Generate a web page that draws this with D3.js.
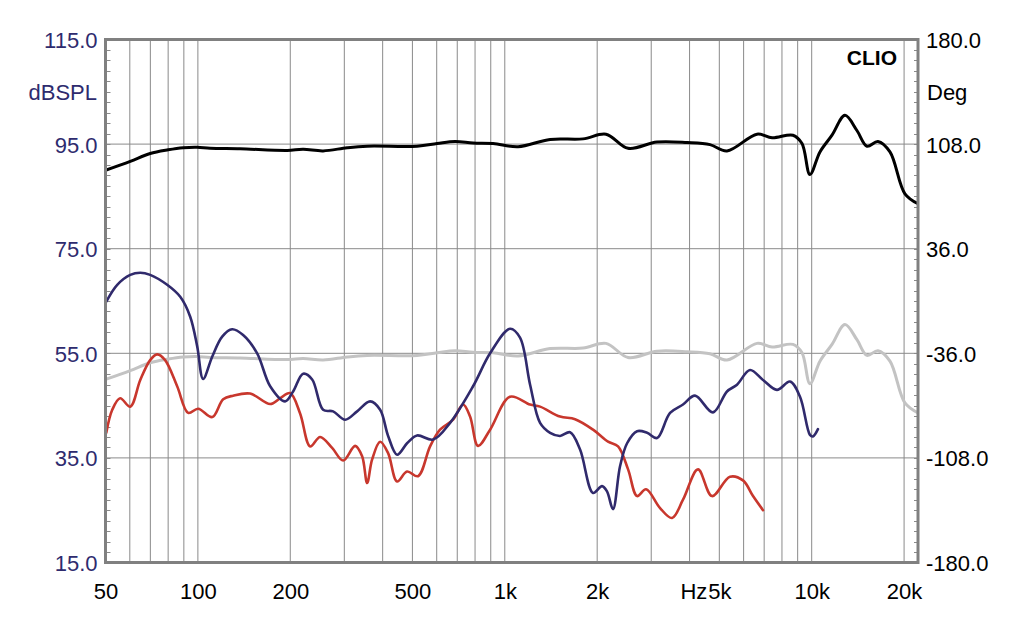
<!DOCTYPE html>
<html>
<head>
<meta charset="utf-8">
<script src="https://cdn.jsdelivr.net/npm/d3@7"></script>
<style>
  html, body { margin: 0; padding: 0; background: #ffffff; }
  svg { display: block; font-family: "Liberation Sans", Arial, sans-serif; }
</style>
</head>
<body>
<svg id="chart" width="1024" height="627"></svg>
<script>
// ---------------- DATA ----------------
const blackFreq = [50,60.2,69.9,80,89.6,99.5,109.6,137.3,195.3,220.3,255.9,306.4,356,517.8,601.6,688.6,788.2,916,1105,1405,1799,2137,2522,3134,3924,4663,5296,6635,7430,8690,9299,9870,10640,11645,12835,14040,15140,16440,17990,20130,22200];
const blackSPL  = [90.0,91.7,93.2,93.9,94.3,94.4,94.2,94.1,93.8,94.0,93.7,94.3,94.6,94.6,95.1,95.5,95.2,95.1,94.5,95.9,96.0,96.9,94.2,95.4,95.3,94.9,93.7,96.9,96.2,96.7,95.1,89.2,93.5,96.7,100.5,97.6,94.6,95.5,93.5,85.5,83.6];

const grayFreq  = [50,60.2,69.9,80,89.6,99.5,109.6,137.3,195.3,220.3,255.9,306.4,356,517.8,601.6,688.6,788.2,916,1105,1405,1799,2137,2522,3134,3924,4663,5296,6635,7430,8690,9299,9870,10640,11645,12835,14040,15140,16440,17990,20130,22200];
const graySPL   = [50.0,51.7,53.2,53.9,54.3,54.4,54.2,54.1,53.8,54.0,53.7,54.3,54.6,54.6,55.1,55.5,55.2,55.1,54.5,55.9,56.0,56.9,54.2,55.4,55.3,54.9,53.7,56.9,56.2,56.7,55.1,49.2,53.5,56.7,60.5,57.6,54.6,55.5,53.5,45.5,43.6];

const blueFreq  = [50.3,54.6,60.2,64.9,69.9,79.4,87.6,94.4,99.5,104,111.4,120,129.3,140.4,156,172,192.4,204.3,220.3,235.7,255.9,275.8,301.9,330.3,364.1,392.5,416.7,445.8,480.3,517.8,583.8,663.3,788.2,895.6,1040,1121,1209,1303,1405,1514,1632,1759,1939,2074,2153,2252,2374,2503,2698,2908,3134,3455,3808,4167,4768,5296,5710,6295,6940,7706,8497,9160,9870,10094,10480];
const blueSPL   = [64.9,68.1,70.0,70.4,70.0,68.1,65.8,62.0,56.3,50.1,54.4,58.2,59.6,58.5,55.0,48.7,45.8,47.7,51.1,50.0,44.2,43.9,42.3,43.9,45.8,44.2,39.2,35.6,37.8,39.3,38.5,41.7,48.7,55.0,59.7,58.0,49.0,41.7,39.8,39.2,39.9,36.6,28.3,29.6,28.6,25.2,33.4,37.8,40.1,39.8,38.8,43.6,45.2,46.9,43.7,47.7,49.0,51.8,49.9,48.0,49.6,46.7,39.4,39.1,40.5];

const redFreq   = [50.3,52.6,55.8,60.2,64.9,69.9,73.7,78.2,85.6,93,100.2,111.4,120.9,130.3,148,172,185.3,199.7,215.3,232.2,250.2,273.8,297.4,325.4,342.9,356,369.6,392.5,416.7,445.8,480.3,521.7,570.9,615.2,678.4,731.1,770.6,818.3,895.6,1040,1209,1303,1514,1694,1939,2170,2339,2522,2698,2886,3206,3507,3808,4262,4733,5417,5972,6439,6940];
const redSPL    = [39.8,44.2,46.4,44.8,49.9,53.7,54.8,53.7,48.7,43.6,44.4,42.8,46.2,46.9,47.3,45.3,46.4,47.4,43.5,37.2,39.0,36.9,34.5,37.3,35.3,30.2,34.7,38.1,35.9,30.5,32.4,31.5,37.2,40.4,42.3,45.2,42.9,37.3,40.4,46.7,45.2,44.8,42.9,42.4,40.4,38.1,37.2,32.8,27.7,29.0,25.4,23.5,27.0,32.8,27.7,31.4,30.7,27.7,25.0];

const xTickValues = [50,100,200,500,1000,2000,5000,10000,20000];
const xTickLabels = ["50","100","200","500","1k","2k","5k","10k","20k"];
const xGridValues = [60,70,80,90,100,200,300,400,500,600,700,800,900,1000,2000,3000,4000,5000,6000,7000,8000,9000,10000,20000];
const yLeftTicks  = [15,35,55,75,95,115];
const yLeftLabels = ["15.0","35.0","55.0","75.0","95.0","115.0"];
const yRightTicks = [-180,-108,-36,36,108,180];
const yRightLabels= ["-180.0","-108.0","-36.0","36.0","108.0","180.0"];
const yMinorTicks = d3.range(17, 115, 2);

// ---------------- LAYOUT ----------------
const L = 105.5, R = 918, T = 39.5, B = 562.5;
const FS = "22px";
const svg = d3.select("#chart");

const x = d3.scaleLog().domain([50, 22200]).range([L, R]);
const y = d3.scaleLinear().domain([15, 115]).range([B, T]);
const y2 = d3.scaleLinear().domain([-180, 180]).range([B, T]);

const gridColor = "#8a8a8a";
const leftColor = "#2e2b6e";

svg.append("defs").append("clipPath").attr("id", "clip")
  .append("rect").attr("x", L).attr("y", T).attr("width", R - L).attr("height", B - T);

svg.append("g").selectAll("line").data(xGridValues).join("line")
  .attr("x1", d => x(d)).attr("x2", d => x(d))
  .attr("y1", T).attr("y2", B)
  .attr("stroke", gridColor).attr("stroke-width", 1);

svg.append("g").selectAll("line").data([35,55,75,95]).join("line")
  .attr("x1", L).attr("x2", R)
  .attr("y1", d => y(d)).attr("y2", d => y(d))
  .attr("stroke", gridColor).attr("stroke-width", 1);

svg.append("g").selectAll("line").data(yMinorTicks).join("line")
  .attr("x1", L).attr("x2", L + 5)
  .attr("y1", d => Math.round(y(d)) + 0.5).attr("y2", d => Math.round(y(d)) + 0.5)
  .attr("stroke", gridColor).attr("stroke-width", 1);
svg.append("g").selectAll("line").data(yMinorTicks).join("line")
  .attr("x1", R - 4).attr("x2", R)
  .attr("y1", d => Math.round(y(d)) + 0.5).attr("y2", d => Math.round(y(d)) + 0.5)
  .attr("stroke", gridColor).attr("stroke-width", 1);

const line = d3.line()
  .x(d => x(d[0])).y(d => y(d[1]))
  .curve(d3.curveCatmullRom.alpha(0.5));

const plot = svg.append("g").attr("clip-path", "url(#clip)");
function drawCurve(fr, val, color, w) {
  plot.append("path")
    .datum(fr.map((f, i) => [f, val[i]]))
    .attr("d", line)
    .attr("fill", "none")
    .attr("stroke", color)
    .attr("stroke-width", w)
    .attr("stroke-linejoin", "round")
    .attr("stroke-linecap", "round");
}
drawCurve(grayFreq, graySPL, "#c3c3c3", 3);
drawCurve(redFreq, redSPL, "#c8372d", 2.6);
drawCurve(blueFreq, blueSPL, "#302a6c", 2.6);
drawCurve(blackFreq, blackSPL, "#000000", 3);

svg.append("rect")
  .attr("x", L).attr("y", T).attr("width", R - L).attr("height", B - T)
  .attr("fill", "none").attr("stroke", "#808080").attr("stroke-width", 3);

function styleText(sel, color) {
  sel.attr("fill", color).style("font-size", FS)
    .style("font-family", "'Liberation Sans', Arial, sans-serif");
}

const axL = d3.axisLeft(y).tickValues(yLeftTicks).tickSize(0).tickPadding(8)
  .tickFormat((d, i) => yLeftLabels[i]);
const gL = svg.append("g").attr("transform", `translate(${L},0)`).call(axL);
gL.select(".domain").remove();
styleText(gL.selectAll("text").attr("dy", "0.36em"), leftColor);

const axR = d3.axisRight(y2).tickValues(yRightTicks).tickSize(0).tickPadding(8)
  .tickFormat((d, i) => yRightLabels[i]);
const gR = svg.append("g").attr("transform", `translate(${R},0)`).call(axR);
gR.select(".domain").remove();
styleText(gR.selectAll("text").attr("dy", "0.36em"), "#000");

const axB = d3.axisBottom(x).tickValues(xTickValues).tickSize(0).tickPadding(0)
  .tickFormat((d, i) => xTickLabels[i]);
const gB = svg.append("g").attr("transform", `translate(0,${B})`).call(axB);
gB.select(".domain").remove();
styleText(gB.selectAll("text").attr("y", 36).attr("dy", null), "#000");

svg.append("text").attr("x", 97).attr("y", 92).attr("dy", "0.36em")
  .attr("text-anchor", "end").attr("fill", leftColor)
  .style("font-size", FS).text("dBSPL");
svg.append("text").attr("x", 927).attr("y", 92).attr("dy", "0.36em")
  .attr("text-anchor", "start").attr("fill", "#000")
  .style("font-size", FS).text("Deg");
svg.append("text").attr("x", x(5000) - 12).attr("y", B + 36)
  .attr("text-anchor", "end").attr("fill", "#000")
  .style("font-size", FS).text("Hz");
svg.append("text").attr("x", 897).attr("y", 57).attr("dy", "0.36em")
  .attr("text-anchor", "end").attr("fill", "#000")
  .style("font-size", "21px").style("font-weight", "bold").text("CLIO");
</script>
</body>
</html>
